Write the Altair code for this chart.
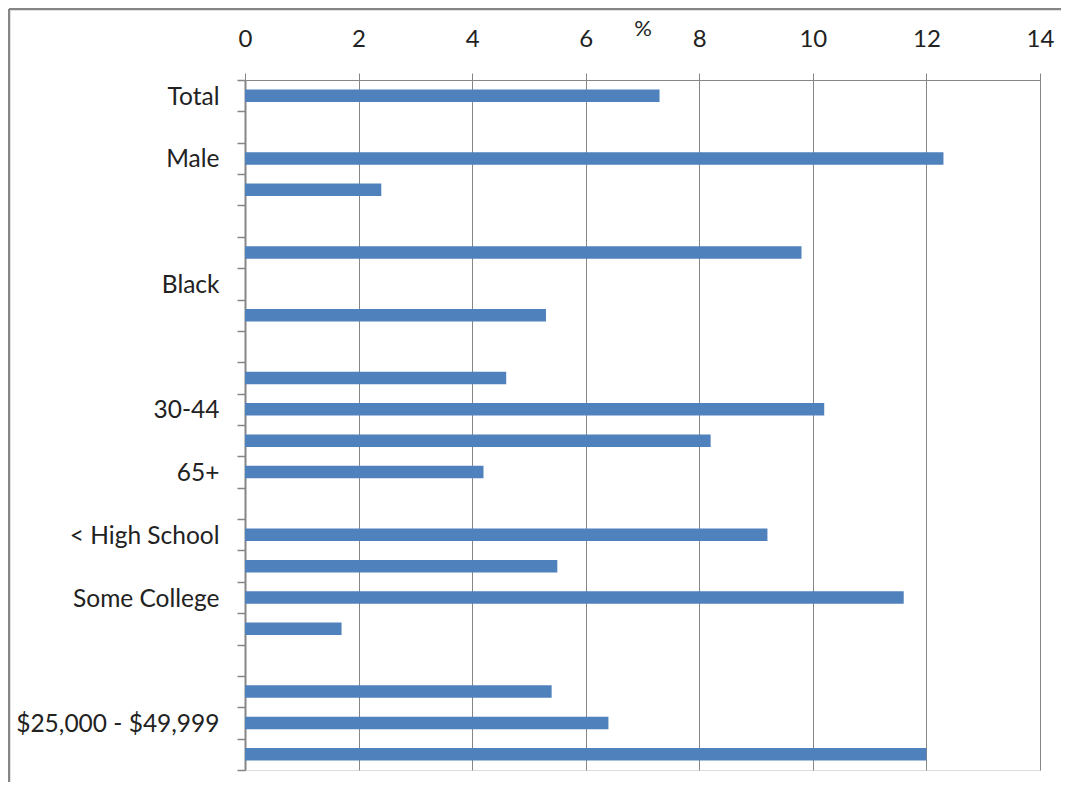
import json
import altair as alt
import pandas as pd

# Row labels (Excel shows only every other category label)
row_labels = ["Total", "", "Male", "", "", "", "Black", "", "", "", "30-44", "",
              "65+", "", "< High School", "", "Some College", "", "", "",
              "$25,000 - $49,999", ""]
# Percent values per row (None = no bar)
values = [7.3, None, 12.3, 2.4, None, 9.8, None, 5.3, None, 4.6, 10.2, 8.2,
          4.2, None, 9.2, 5.5, 11.6, 1.7, None, 5.4, 6.4, 12.0]
x_ticks = [0, 2, 4, 6, 8, 10, 12, 14]

n_rows = len(row_labels)
df = pd.DataFrame({"row": list(range(n_rows)), "value": values})

W, H = 795, 690
GRAY = "#868686"
TEXT = "#222222"
FONT = "Lato"

label_expr = f"datum.value < {n_rows} ? {json.dumps(row_labels)}[datum.value] : ''"

bars = alt.Chart(df).transform_calculate(
    yc="datum.row + 0.5"
).mark_bar(orient="horizontal", size=12.5, color="#4F81BD").encode(
    x=alt.X("value:Q",
            scale=alt.Scale(domain=[0, 14], nice=False, zero=True, padding=0),
            axis=alt.Axis(orient="top", values=x_ticks, title="%",
                          grid=True, gridColor=GRAY, gridWidth=1,
                          domainColor=GRAY, domainWidth=1,
                          tickColor=GRAY, tickSize=7, tickWidth=1,
                          labelFont=FONT, labelFontSize=24, labelColor=TEXT,
                          labelPadding=22, labelFlush=False, labelOverlap=False,
                          titleFont=FONT, titleFontSize=22, titleFontWeight="normal",
                          titleColor=TEXT, titleBaseline="middle", titleY=-52)),
    y=alt.Y("yc:Q",
            scale=alt.Scale(domain=[0, n_rows], reverse=True, nice=False,
                            zero=False, padding=0),
            axis=alt.Axis(values=list(range(n_rows + 1)), labelExpr=label_expr,
                          title=None, grid=False,
                          domainColor=GRAY, domainWidth=2,
                          tickColor=GRAY, tickSize=8, tickWidth=1.5,
                          labelFont=FONT, labelFontSize=24.5, labelColor=TEXT,
                          labelPadding=18, labelOffset=H / n_rows / 2 + 1.5,
                          labelBaseline="middle", labelFlush=False,
                          labelOverlap=False, labelLimit=400)),
)

frame_df = pd.DataFrame({"k": [0]})
left_border = alt.Chart(frame_df).mark_rule(color=GRAY, strokeWidth=2.5).encode(
    x=alt.value(-236), y=alt.value(-71), y2=alt.value(702)
)
top_border = alt.Chart(frame_df).mark_rule(color=GRAY, strokeWidth=2.5).encode(
    x=alt.value(-236), x2=alt.value(816), y=alt.value(-71)
)

chart = alt.layer(bars, left_border, top_border).properties(
    width=W, height=H,
    autosize=alt.AutoSizeParams(type="none"),
    padding={"left": 237, "top": 72, "right": 21, "bottom": 12},
).configure_view(stroke="transparent").configure(font=FONT)

chart.save("out.html", embed_options={"renderer": "svg", "actions": False})
